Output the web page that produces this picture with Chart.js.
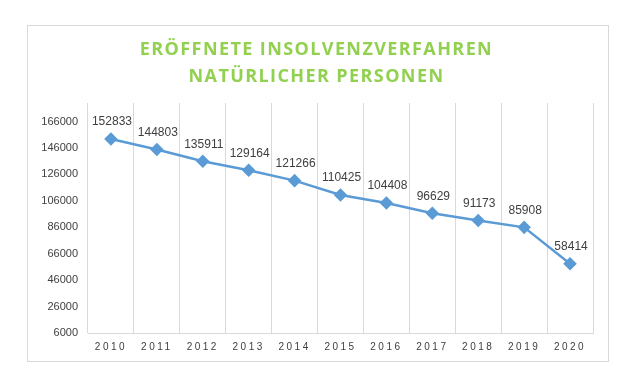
<!DOCTYPE html>
<html>
<head>
<meta charset="utf-8">
<script src="https://cdn.jsdelivr.net/npm/chart.js@4"></script>
<style>
  body { margin: 0; background: #fff; }
  #frame {
    position: absolute;
    left: 27px; top: 25px;
    width: 580px; height: 335px;
    border: 1px solid #d9d9d9;
  }
</style>
</head>
<body>
<div id="frame"><canvas id="insolvency-chart"></canvas></div>
<script>
const years = ["2010", "2011", "2012", "2013", "2014", "2015", "2016", "2017", "2018", "2019", "2020"];
const cases = [152833, 144803, 135911, 129164, 121266, 110425, 104408, 96629, 91173, 85908, 58414];
const yTicks = [6000, 26000, 46000, 66000, 86000, 106000, 126000, 146000, 166000];
const titleLines = ["ERÖFFNETE INSOLVENZVERFAHREN", "NATÜRLICHER PERSONEN"];

// Draw given function with extra letter spacing on the canvas
function withSpacing(obj, method, spacing, shiftX) {
    if (!obj || obj["_spaced_" + method]) return;
    const orig = obj[method].bind(obj);
    obj[method] = function (...args) {
        const ctx = this.ctx;
        ctx.save();
        ctx.letterSpacing = spacing;
        ctx.translate(shiftX, 0);
        orig(...args);
        ctx.restore();
    };
    obj["_spaced_" + method] = true;
}

const spacingPlugin = {
    id: "spacing",
    afterUpdate(chart) {
        withSpacing(chart.titleBlock, "draw", "1.4px", 6);
        withSpacing(chart.scales.x, "drawLabels", "2.5px", 0);
    },
};

// Value labels above each point
const valueLabels = {
    id: "valueLabels",
    afterDatasetsDraw(chart) {
        const ctx = chart.ctx;
        const meta = chart.getDatasetMeta(0);
        ctx.save();
        ctx.font = "12px 'Liberation Sans', Arial, sans-serif";
        ctx.fillStyle = "#404040";
        ctx.textAlign = "center";
        ctx.textBaseline = "middle";
        meta.data.forEach((pt, i) => {
            ctx.fillText(String(cases[i]), pt.x + 1, pt.y - 17);
        });
        ctx.restore();
    },
};

const ctx = document.getElementById("insolvency-chart").getContext("2d");

new Chart(ctx, {
    type: "line",
    data: {
        labels: years,
        datasets: [
            {
                data: cases,
                borderColor: "#5b9bd5",
                backgroundColor: "#5b9bd5",
                borderWidth: 2.5,
                pointStyle: "rectRot",
                pointRadius: 5,
                pointHoverRadius: 5,
                fill: false,
                tension: 0,
            },
        ],
    },
    options: {
        responsive: true,
        maintainAspectRatio: false,
        animation: false,
        layout: {
            padding: { left: 0, right: 15, top: 0, bottom: 0 },
        },
        plugins: {
            legend: { display: false },
            tooltip: { enabled: false },
            title: {
                display: true,
                text: titleLines,
                color: "#92d050",
                font: { family: "'Open Sans', sans-serif", size: 18, weight: "bold", lineHeight: 1.5 },
                padding: { top: 10, bottom: 13 },
            },
        },
        scales: {
            x: {
                offset: true,
                grid: {
                    offset: true,
                    color: "#d9d9d9",
                    drawTicks: false,
                },
                border: { color: "#d9d9d9" },
                ticks: {
                    color: "#404040",
                    font: { family: "'Liberation Sans', Arial, sans-serif", size: 10 },
                    padding: 8,
                    maxRotation: 0,
                },
                afterFit(scale) {
                    scale.height = 28;
                },
            },
            y: {
                min: 6000,
                max: 180000,
                grid: { display: false, drawTicks: false },
                border: { display: false },
                ticks: {
                    color: "#404040",
                    font: { family: "'Liberation Sans', Arial, sans-serif", size: 11 },
                    padding: 10,
                    callback: value => String(value),
                },
                afterBuildTicks(scale) {
                    scale.ticks = yTicks.map(v => ({ value: v }));
                },
                afterFit(scale) {
                    scale.width = 60;
                },
            },
        },
    },
    plugins: [spacingPlugin, valueLabels],
});
</script>
</body>
</html>
